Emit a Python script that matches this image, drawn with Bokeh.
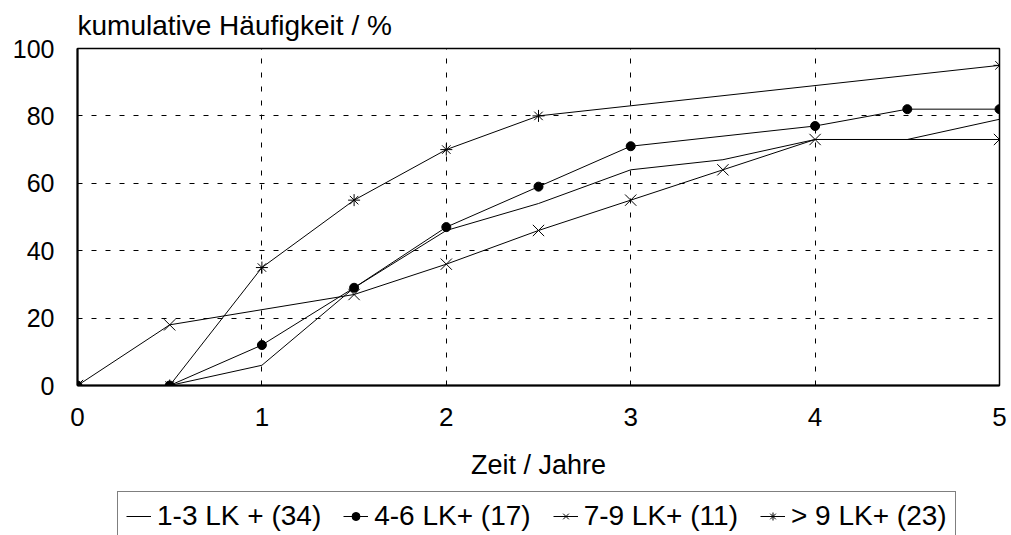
from bokeh.plotting import figure
from bokeh.models import Legend, LegendItem, FixedTicker
from bokeh.layouts import column
from bokeh.embed import file_html
from bokeh.resources import INLINE

# ---- data ----
x1 = [0, 0.5, 1, 1.5, 2, 2.5, 3, 3.5, 4, 4.5, 5]
y1 = [0, 0, 6, 29, 46, 54, 64, 67, 73, 73, 79]          # 1-3 LK + (34)
x2 = [0, 0.5, 1, 1.5, 2, 2.5, 3, 4, 4.5, 5]
y2 = [0, 0, 12, 29, 47, 59, 71, 77, 82, 82]             # 4-6 LK+ (17)
x3 = [0, 0.5, 1.5, 2, 2.5, 3, 3.5, 4, 5]
y3 = [0, 18, 27, 36, 46, 55, 64, 73, 73]                # 7-9 LK+ (11)
x4 = [0, 0.5, 1, 1.5, 2, 2.5, 5]
y4 = [0, 0, 35, 55, 70, 80, 95]                         # > 9 LK+ (23)
labels = ["1-3 LK + (34)", "4-6 LK+ (17)", "7-9 LK+ (11)", "> 9 LK+ (23)"]
x_ticks = [0, 1, 2, 3, 4, 5]
y_ticks = [0, 20, 40, 60, 80, 100]

FONT = "Liberation Sans"

p = figure(width=1011, height=491, x_range=(0, 5), y_range=(0, 100),
           output_backend="svg", toolbar_location=None,
           min_border_left=77, min_border_right=12, min_border_top=48, min_border_bottom=106,
           title="kumulative Häufigkeit / %")
p.background_fill_color = "white"
p.border_fill_color = "white"
p.outline_line_color = "black"
p.outline_line_width = 1.5

p.title.text_font = FONT
p.title.text_font_size = "28px"
p.title.text_font_style = "normal"
p.title.text_color = "black"
p.title.align = "left"
p.title.offset = 0
p.title.standoff = 15

for ax in (p.xaxis[0], p.yaxis[0]):
    ax.major_label_text_font = FONT
    ax.major_label_text_font_size = "26px"
    ax.major_label_text_color = "black"
    ax.major_tick_in = 0
    ax.major_tick_out = 0
    ax.minor_tick_in = 0
    ax.minor_tick_out = 0
    ax.axis_line_width = 2
    ax.axis_line_color = "black"
p.yaxis.major_label_text_font_size = "25px"
p.xaxis.ticker = FixedTicker(ticks=x_ticks)
p.yaxis.ticker = FixedTicker(ticks=y_ticks)
p.xaxis.major_label_standoff = 22
p.yaxis.major_label_standoff = 23
p.xaxis.axis_label = "Zeit / Jahre"
p.xaxis.axis_label_text_font = FONT
p.xaxis.axis_label_text_font_size = "27px"
p.xaxis.axis_label_text_font_style = "normal"
p.xaxis.axis_label_text_color = "black"
p.xaxis.axis_label_standoff = 21

for g in (p.xgrid[0], p.ygrid[0]):
    g.grid_line_color = "black"
    g.grid_line_width = 1
    g.grid_line_dash = "5 9"
p.xgrid.ticker = FixedTicker(ticks=[1, 2, 3, 4])
p.ygrid.ticker = FixedTicker(ticks=[20, 40, 60, 80])


def draw(fig):
    r1 = fig.line(x1, y1, line_color="black", line_width=1)
    r2l = fig.line(x2, y2, line_color="black", line_width=1)
    r2m = fig.scatter(x2, y2, marker="circle", size=9, fill_color="black", line_color="black")
    r3l = fig.line(x3, y3, line_color="black", line_width=1)
    r3m = fig.scatter(x3, y3, marker="x", size=16, line_color="black", line_width=1)
    r4l = fig.line(x4, y4, line_color="black", line_width=1)
    r4m = fig.scatter(x4, y4, marker="asterisk", size=12, line_color="black", line_width=1)
    return [[r1], [r2l, r2m], [r3l, r3m], [r4l, r4m]]


draw(p)

# legend strip below the chart (same series, drawn outside its visible range)
q = figure(width=1011, height=44, x_range=(100, 101), y_range=(100, 101),
           output_backend="svg", toolbar_location=None,
           min_border_left=0, min_border_right=0, min_border_top=0, min_border_bottom=0,
           x_axis_location=None, y_axis_location=None)
q.outline_line_color = None
q.grid.visible = False
q.background_fill_color = "white"
q.border_fill_color = "white"
rs = draw(q)

legend = Legend(items=[LegendItem(label=lab, renderers=r) for lab, r in zip(labels, rs)],
                orientation="horizontal", location=(40, -6))
legend.label_text_font = FONT
legend.label_text_font_size = "28px"
legend.label_text_color = "black"
legend.label_standoff = 6
legend.glyph_width = 25
legend.spacing = 22
legend.padding = 8
legend.margin = 0
legend.border_line_color = "black"
legend.border_line_width = 1.5
legend.background_fill_alpha = 1
q.add_layout(legend, "center")

open("out.html", "w").write(file_html(column(p, q, spacing=0), INLINE))
